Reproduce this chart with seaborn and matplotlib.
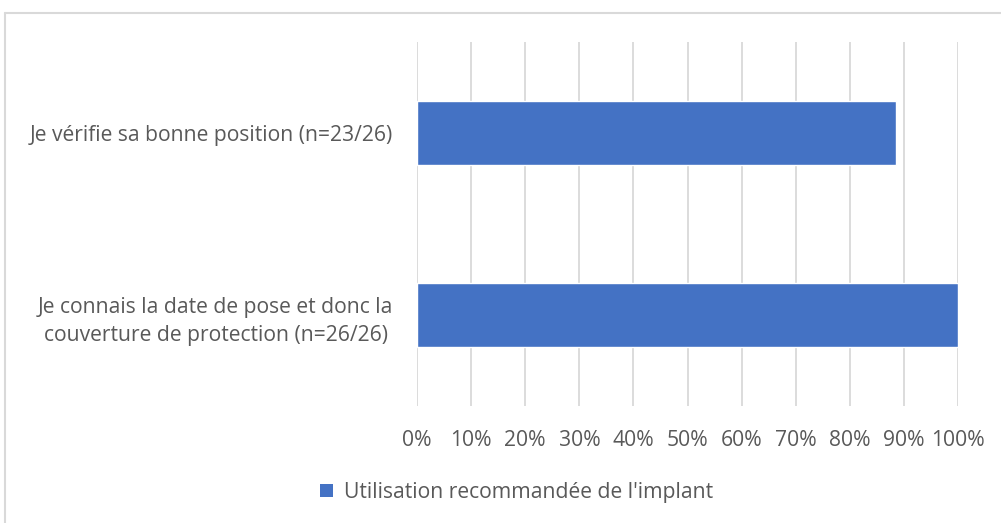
import matplotlib
matplotlib.use("Agg")
import matplotlib.pyplot as plt
import seaborn as sns
import pandas as pd
from matplotlib.lines import Line2D
from matplotlib.patches import Patch
from matplotlib.ticker import PercentFormatter

# Data
categories = [
    "Je vérifie sa bonne position (n=23/26)",
    "Je connais la date de pose et donc la\ncouverture de protection (n=26/26)",
]
values = [88.46, 100.0]
series_name = "Utilisation recommandée de l'implant"
x_ticks = [0, 10, 20, 30, 40, 50, 60, 70, 80, 90, 100]

bar_color = "#4472C4"
text_color = "#595959"
grid_color = "#D9D9D9"

sns.set_theme(style="white")
plt.rcParams["font.family"] = ["Open Sans", "DejaVu Sans"]

df = pd.DataFrame({"label": categories, "value": values})

fig = plt.figure(figsize=(10.01, 5.23), dpi=100)
ax = fig.add_axes([0.4166, 0.2237, 0.5405, 0.696])

sns.barplot(data=df, x="value", y="label", orient="h", color=bar_color,
            width=0.35, saturation=1, ax=ax)

ax.set_xlim(0, 100)
ax.set_xticks(x_ticks)
ax.xaxis.set_major_formatter(PercentFormatter(decimals=0))
ax.grid(axis="x", color=grid_color, linewidth=1.3)
ax.set_axisbelow(True)
for s in ax.spines.values():
    s.set_visible(False)
ax.set_xlabel("")
ax.set_ylabel("")
ax.tick_params(axis="x", length=0, pad=17, labelsize=15.2, colors=text_color)
ax.tick_params(axis="y", length=0, pad=17, labelsize=15.2, colors=text_color)
for t in ax.get_yticklabels():
    t.set_horizontalalignment("right")
    t.set_multialignment("center")
    t.set_linespacing(1.45)

# legend
handle = Patch(facecolor=bar_color, edgecolor="none")
leg = fig.legend([handle], [series_name], loc="center", bbox_to_anchor=(0.516, 0.058),
                 frameon=False, fontsize=15.2, handlelength=0.6, handleheight=0.6,
                 handletextpad=0.5)
for t in leg.get_texts():
    t.set_color(text_color)

# chart frame (left and top edges visible)
fig.add_artist(Line2D([5 / 1001, 5 / 1001], [0, 1 - 13 / 523], color=grid_color, linewidth=1.5,
                      transform=fig.transFigure))
fig.add_artist(Line2D([5 / 1001, 1], [1 - 13 / 523, 1 - 13 / 523], color=grid_color, linewidth=1.5,
                      transform=fig.transFigure))

fig.savefig("out.png", dpi=100, facecolor="white")
